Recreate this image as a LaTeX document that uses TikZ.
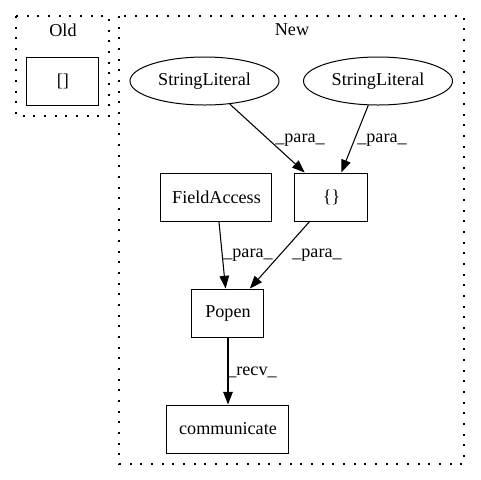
\documentclass[tikz,border=0pt]{standalone}
\usepackage{fontspec}
\setmainfont{Liberation Serif}
\usetikzlibrary{arrows.meta,shapes.geometric}
\begin{document}
\begin{tikzpicture}[x=0.75pt,y=-0.75pt,
  every node/.style={font=\fontsize{13.6}{16}\selectfont, inner sep=0pt},
  box/.style={draw, line width=0.75pt, rectangle, minimum height=36pt},
  oval/.style={draw, line width=0.75pt, ellipse, minimum width=111.75pt, minimum height=36pt},
  cluster/.style={draw, line width=1pt, dash pattern=on 1.4pt off 6.6pt},
  edge/.style={draw, line width=0.8pt, -{Triangle[length=9.5pt,width=7.2pt]}},
  lbl/.style={font=\fontsize{13.6}{16}\selectfont}
]
\useasboundingbox (0,0) rectangle (480,480);

% clusters
\draw[cluster] (16,16) rectangle (109,116);
\draw[cluster] (119,16) rectangle (464,464);
\node (oldlbl) at (63,30) {Old};
\node (newlbl) at (292,30) {New};

% nodes
\node[box, minimum width=54pt] (old) at (63,81) {[]};
\node[oval] (sl1) at (204.5,81) {StringLiteral};
\node[oval] (sl2) at (378,81) {StringLiteral};
\node[box, minimum width=54.75pt] (br) at (331.5,197) {\{\}};
\node[box, minimum width=83.25pt] (fa) at (216.5,197) {FieldAccess};
\node[box, minimum width=54pt] (popen) at (228,313) {Popen};
\node[box, minimum width=91.5pt] (comm) at (228,429) {communicate};

% connectors
\draw[edge] (sl1) -- (br);
\draw[edge] (sl2) -- (br);
\draw[edge] (fa) -- (popen);
\draw[edge] (br) -- (popen);
\draw[edge] (popen) -- (comm);

% connector labels
\node[lbl] (l1) at (300,140) {\_para\_};
\node[lbl] (l2) at (382,140) {\_para\_};
\node[lbl] (l3) at (248,255) {\_para\_};
\node[lbl] (l4) at (317,255) {\_para\_};
\node[lbl] (l5) at (252,372) {\_recv\_};
\end{tikzpicture}
\end{document}
